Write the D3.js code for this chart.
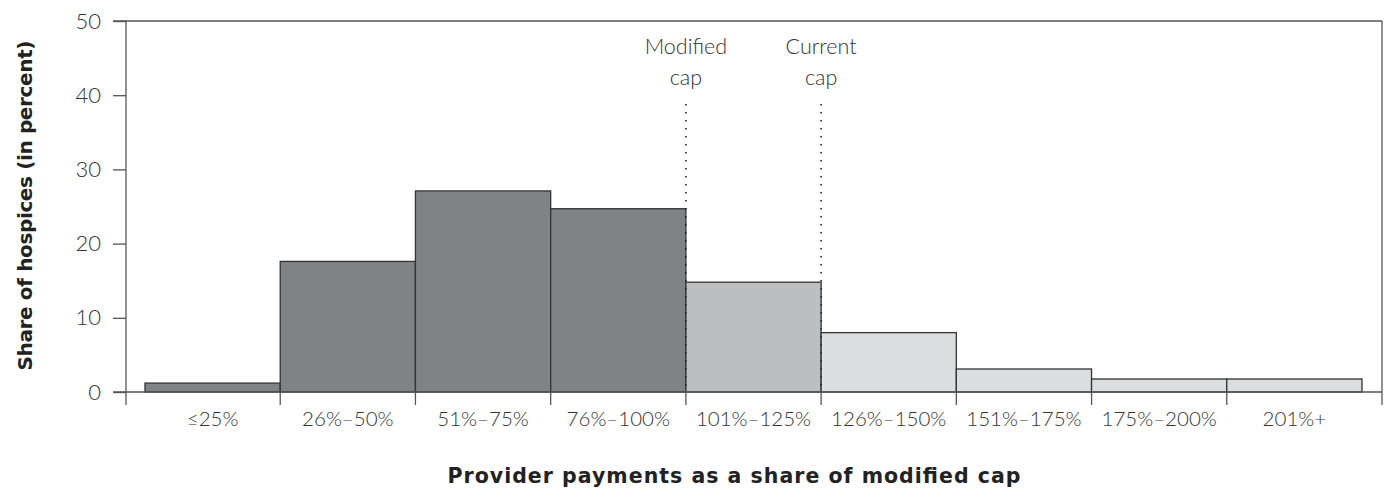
<!DOCTYPE html>
<html><head><meta charset="utf-8">
<script src="https://cdn.jsdelivr.net/npm/d3@7"></script>
<style>
html,body{margin:0;padding:0;background:#fff;}
svg{display:block;}
text{font-family:"Lato","Open Sans",sans-serif;}
</style></head>
<body><svg id="c" width="1384" height="498"></svg>
<script>
const categories = ["≤25%","26%–50%","51%–75%","76%–100%","101%–125%","126%–150%","151%–175%","175%–200%","201%+"];
const shares = [1.2, 17.6, 27.1, 24.7, 14.8, 8.0, 3.1, 1.75, 1.75];
const groups = ["below","below","below","below","between","above","above","above","above"];
const yTicks = [0,10,20,30,40,50];
const capLines = [{label:["Modified","cap"], after:"76%–100%"},{label:["Current","cap"], after:"101%–125%"}];
const yTitle = "Share of hospices (in percent)";
const xTitle = "Provider payments as a share of modified cap";

const colors = {below:"#808285", between:"#bcbec0", above:"#dcddde"};
const svg = d3.select("#c");
const L = 126, R = 1382, T = 21, B = 392;
const x = d3.scaleBand().domain(categories).range([145, 1362]).padding(0);
const y = d3.scaleLinear().domain([0,50]).range([B, T]);
const axisColor = "#555";

// bars
svg.append("g").selectAll("rect").data(categories).join("rect")
  .attr("x", d => x(d)).attr("width", x.bandwidth())
  .attr("y", (d,i) => y(shares[i])).attr("height", (d,i) => B - y(shares[i]))
  .attr("fill", (d,i) => colors[groups[i]])
  .attr("stroke", "#333").attr("stroke-width", 1.3);

// y axis
const yAxis = d3.axisLeft(y).tickValues(yTicks).tickSize(13).tickPadding(12).tickFormat(d3.format("d"));
const gy = svg.append("g").attr("transform", `translate(${L},0)`).call(yAxis);
gy.select(".domain").remove();
gy.selectAll(".tick line").attr("stroke", axisColor).attr("stroke-width", 1.3);
gy.selectAll(".tick text").attr("font-size", 22).attr("font-weight", 300).attr("fill", "#333").style("font-family","Lato");

// x axis ticks at internal boundaries
const bounds = categories.slice(1).map(c => x(c));
svg.append("g").selectAll("line").data(bounds).join("line")
  .attr("x1", d => d).attr("x2", d => d).attr("y1", B).attr("y2", B + 13)
  .attr("stroke", axisColor).attr("stroke-width", 1.3);
// x labels
svg.append("g").selectAll("text").data(categories).join("text")
  .attr("x", d => x(d) + x.bandwidth()/2).attr("y", B + 34)
  .attr("text-anchor", "middle").attr("font-size", 20.5).attr("font-weight", 300).attr("fill", "#333")
  .text(d => d);

// frame
svg.append("line").attr("x1", 113).attr("x2", R).attr("y1", T).attr("y2", T).attr("stroke", axisColor).attr("stroke-width", 1.3);
svg.append("line").attr("x1", 113).attr("x2", R).attr("y1", B).attr("y2", B).attr("stroke", axisColor).attr("stroke-width", 1.3);
svg.append("line").attr("x1", L).attr("x2", L).attr("y1", T).attr("y2", B + 13).attr("stroke", axisColor).attr("stroke-width", 1.3);
svg.append("line").attr("x1", R).attr("x2", R).attr("y1", T).attr("y2", B + 13).attr("stroke", axisColor).attr("stroke-width", 1.3);

// cap lines
capLines.forEach(c => {
  const cx = x(c.after) + x.bandwidth();
  svg.append("line").attr("x1", cx).attr("x2", cx).attr("y1", 104).attr("y2", B)
    .attr("stroke", "#222").attr("stroke-width", 1.6).attr("stroke-dasharray", "1.6,6.4");
  c.label.forEach((t, i) => {
    svg.append("text").attr("x", cx).attr("y", 54 + i*31).attr("text-anchor", "middle")
      .attr("font-size", 21.5).attr("font-weight", 300).attr("fill", "#333").text(t);
  });
});

// titles
svg.append("text").attr("transform", `translate(32,${(T+B)/2 - 1}) rotate(-90)`)
  .attr("text-anchor", "middle").attr("font-size", 20).attr("font-weight", 700).attr("fill", "#222")
  .attr("textLength", 330).attr("lengthAdjust", "spacing")
  .style("font-family", "'DejaVu Sans'").text(yTitle);
svg.append("text").attr("x", 734).attr("y", 483).attr("text-anchor", "middle")
  .attr("font-size", 20.5).attr("font-weight", 700).attr("fill", "#222")
  .attr("textLength", 573).attr("lengthAdjust", "spacing")
  .style("font-family", "'DejaVu Sans'").text(xTitle);
</script></body></html>
